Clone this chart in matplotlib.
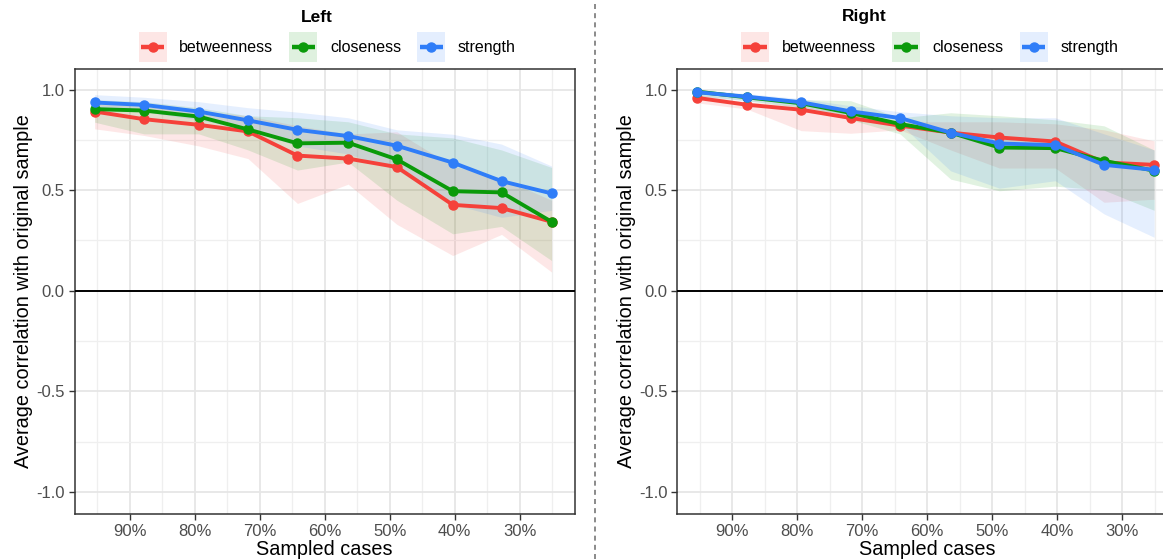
import matplotlib
matplotlib.use("Agg")
import matplotlib.pyplot as plt
from matplotlib.lines import Line2D
from matplotlib.patches import Rectangle
from matplotlib.legend_handler import HandlerBase
from matplotlib.ticker import FixedLocator
from matplotlib.transforms import blended_transform_factory

plt.rcParams['font.family'] = ['Liberation Sans', 'DejaVu Sans']

# ---- data ----
sampled = [95.4, 87.8, 79.4, 71.8, 64.2, 56.4, 48.9, 40.3, 32.8, 25.1]
measures = ["betweenness", "closeness", "strength"]
colors = {"betweenness": "#F5413A", "closeness": "#0A9A0A", "strength": "#2F7DF8"}

left_mean = {
    "betweenness": [0.891, 0.853, 0.825, 0.792, 0.672, 0.657, 0.615, 0.427, 0.411, 0.343],
    "closeness":   [0.903, 0.896, 0.866, 0.802, 0.733, 0.736, 0.653, 0.495, 0.489, 0.343],
    "strength":    [0.936, 0.924, 0.891, 0.847, 0.800, 0.769, 0.721, 0.637, 0.545, 0.484],
}
left_lower = {
    "betweenness": [0.805, 0.772, 0.720, 0.657, 0.434, 0.530, 0.330, 0.175, 0.280, 0.093],
    "closeness":   [0.838, 0.780, 0.780, 0.700, 0.600, 0.640, 0.450, 0.283, 0.320, 0.150],
    "strength":    [0.900, 0.890, 0.850, 0.800, 0.720, 0.680, 0.600, 0.430, 0.365, 0.400],
}
left_upper = {
    "betweenness": [0.940, 0.915, 0.895, 0.870, 0.820, 0.780, 0.790, 0.620, 0.560, 0.450],
    "closeness":   [0.950, 0.940, 0.910, 0.870, 0.860, 0.840, 0.780, 0.760, 0.700, 0.613],
    "strength":    [0.975, 0.962, 0.940, 0.910, 0.888, 0.860, 0.800, 0.778, 0.729, 0.620],
}

right_mean = {
    "betweenness": [0.959, 0.925, 0.900, 0.859, 0.821, 0.786, 0.762, 0.742, 0.638, 0.626],
    "closeness":   [0.990, 0.962, 0.932, 0.884, 0.829, 0.786, 0.712, 0.709, 0.646, 0.597],
    "strength":    [0.987, 0.965, 0.937, 0.892, 0.859, 0.786, 0.732, 0.724, 0.626, 0.601],
}
right_lower = {
    "betweenness": [0.934, 0.904, 0.796, 0.783, 0.800, 0.700, 0.610, 0.610, 0.440, 0.455],
    "closeness":   [0.970, 0.945, 0.910, 0.850, 0.780, 0.555, 0.497, 0.520, 0.500, 0.400],
    "strength":    [0.970, 0.945, 0.915, 0.870, 0.830, 0.596, 0.510, 0.547, 0.382, 0.266],
}
right_upper = {
    "betweenness": [0.975, 0.940, 0.920, 0.880, 0.840, 0.840, 0.840, 0.830, 0.800, 0.745],
    "closeness":   [1.000, 0.975, 0.950, 0.945, 0.860, 0.885, 0.870, 0.850, 0.820, 0.700],
    "strength":    [1.000, 0.980, 0.955, 0.920, 0.890, 0.870, 0.860, 0.860, 0.780, 0.700],
}

xticks = [90, 80, 70, 60, 50, 40, 30]
xtick_labels = ["90%", "80%", "70%", "60%", "50%", "40%", "30%"]
yticks = [-1.0, -0.5, 0.0, 0.5, 1.0]
ytick_labels = ["-1.0", "-0.5", "0.0", "0.5", "1.0"]

W, H = 1163, 559
fig = plt.figure(figsize=(W / 100, H / 100), dpi=100)


class KeyHandler(HandlerBase):
    def __init__(self, color):
        super().__init__()
        self.color = color

    def create_artists(self, legend, orig_handle, xdescent, ydescent, width, height,
                       fontsize, trans):
        pad_y = height * 0.35
        rect = Rectangle((-xdescent, -ydescent - pad_y), width, height + 2 * pad_y,
                         facecolor=self.color, alpha=0.13, edgecolor="none", transform=trans)
        yc = -ydescent + height / 2
        line = Line2D([-xdescent + width * 0.08, -xdescent + width * 0.92], [yc, yc],
                      color=self.color, lw=3.2, transform=trans, solid_capstyle="butt")
        pt = Line2D([-xdescent + width / 2], [yc], marker="o", ms=6.5, color=self.color,
                    lw=0, transform=trans)
        return [rect, line, pt]


def panel(rect, title, title_x, mean, lower, upper):
    ax = fig.add_axes(rect)
    ax.set_facecolor("white")
    for m in measures:
        ax.fill_between(sampled, lower[m], upper[m], color=colors[m], alpha=0.12,
                        linewidth=0, zorder=2)
    for m in measures:
        ax.plot(sampled, mean[m], color=colors[m], lw=2.8, marker="o", ms=6.5,
                zorder=4, solid_joinstyle="round")
    ax.axhline(0, color="black", lw=1.4, zorder=3)
    ax.set_xlim(98.5, 21.5)
    ax.set_ylim(-1.11, 1.105)
    ax.xaxis.set_major_locator(FixedLocator(xticks))
    ax.set_xticklabels(xtick_labels)
    ax.xaxis.set_minor_locator(FixedLocator([95, 85, 75, 65, 55, 45, 35, 25]))
    ax.yaxis.set_major_locator(FixedLocator(yticks))
    ax.set_yticklabels(ytick_labels)
    ax.yaxis.set_minor_locator(FixedLocator([-0.75, -0.25, 0.25, 0.75]))
    ax.grid(which="major", color="#E6E6E6", lw=1.3, zorder=0)
    ax.grid(which="minor", color="#EFEFEF", lw=0.9, zorder=0)
    ax.set_axisbelow(True)
    ax.tick_params(which="major", length=4, width=1, color="#333333",
                   labelsize=12, labelcolor="#4D4D4D", pad=3)
    ax.tick_params(which="minor", length=0)
    for s in ax.spines.values():
        s.set_color("#333333")
        s.set_linewidth(1.1)
    ax.set_xlabel("Sampled cases", fontsize=14.3, labelpad=1)
    ax.set_ylabel("Average correlation with original sample", fontsize=14.3, labelpad=2)

    handles = [Line2D([], [], color=colors[m]) for m in measures]
    hmap = {h: KeyHandler(colors[m]) for h, m in zip(handles, measures)}
    trans = blended_transform_factory(ax.transAxes, fig.transFigure)
    ax.legend(handles, measures, handler_map=hmap,
              loc="center", bbox_to_anchor=(0.505, 1 - 47 / H), bbox_transform=trans,
              ncol=3, frameon=False, fontsize=11.5,
              handlelength=1.75, handleheight=1.3, columnspacing=1.0, handletextpad=0.8,
              borderaxespad=0.0, borderpad=0.1)
    fig.text(title_x / W, 1 - 17 / H, title, ha="center", va="center",
             fontsize=12.5, fontweight="bold")
    return ax


ax_h = (514 - 68.5) / H
ax_y = 1 - 514 / H
panel([74.5 / W, ax_y, 500.5 / W, ax_h], "Left", 317, left_mean, left_lower, left_upper)
panel([677 / W, ax_y, 500.5 / W, ax_h], "Right", 864, right_mean, right_lower, right_upper)

fig.add_artist(Line2D([595 / W, 595 / W], [0, 1], color="#777777", lw=1.2,
                      ls=(0, (3, 2.5)), transform=fig.transFigure))

fig.savefig("out.png", dpi=100, facecolor="white")
